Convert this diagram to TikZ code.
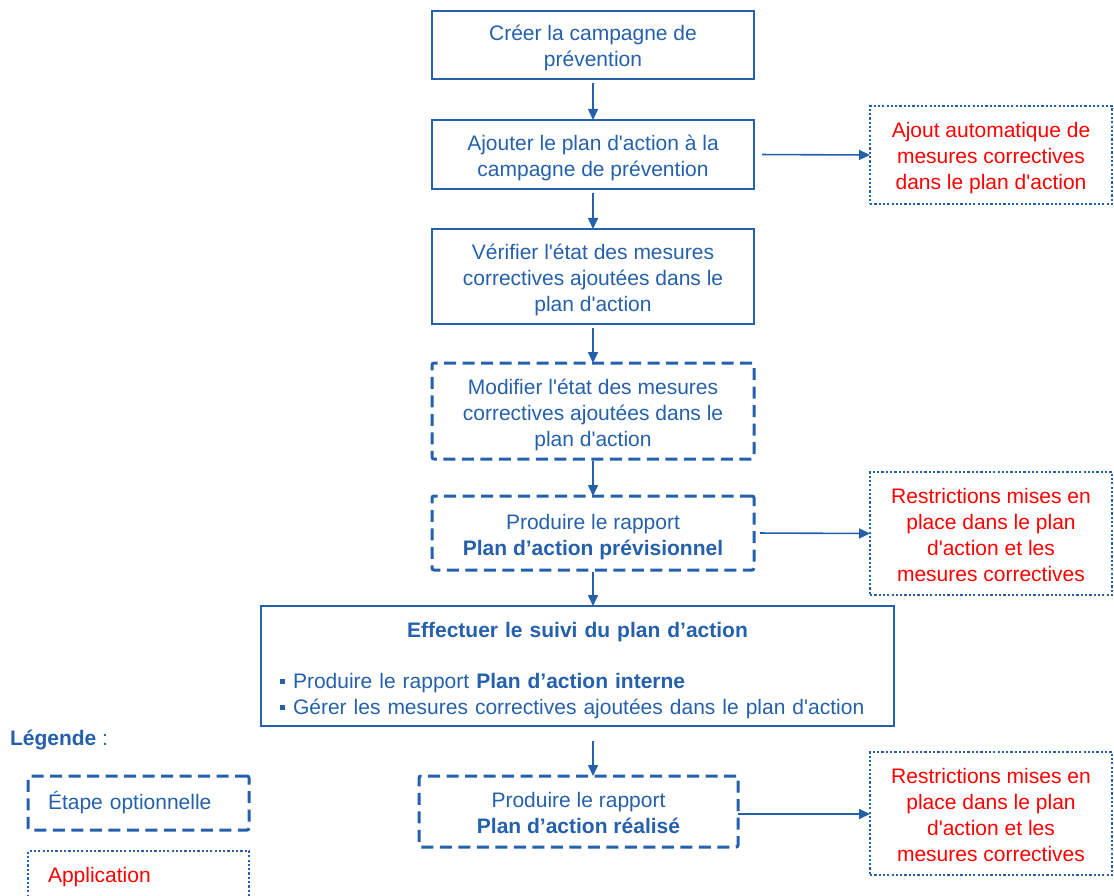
\documentclass[tikz,border=0pt]{standalone}
\usepackage{fontspec}
\setmainfont{Liberation Sans}[Ligatures=TeXOff]
\usetikzlibrary{arrows.meta}
\definecolor{bl}{RGB}{36,96,172}
\definecolor{rd}{RGB}{255,0,0}
\newcommand{\ts}{\rule{0pt}{23pt}}
\newcommand{\bs}{\rule[-5pt]{0pt}{5pt}}
\tikzset{
  base/.style={inner sep=0pt, outer sep=0pt, align=center, text=bl,
    font=\fontsize{21}{26}\selectfont},
  stepbox/.style={base, draw=bl, line width=1.6pt},
  optbox/.style={base, draw=bl, line width=3pt, dash pattern=on 12pt off 6.5pt, rounded corners=2pt},
  appbox/.style={base, draw=bl, text=rd, line width=2.5pt, dash pattern=on 2.2pt off 2.1pt},
  arr/.style={draw=bl, line width=1.6pt, -{Triangle[length=11pt,width=10pt]}},
}
\begin{document}
\begin{tikzpicture}[x=1pt,y=-1pt]
\path[use as bounding box] (0,0) rectangle (1114,896);
\clip (0,0) rectangle (1114,896);
% main steps
\node[stepbox, minimum width=322pt, minimum height=68pt] (creer) at (593,45) {\ts Créer la campagne de\\prévention\bs};
\node[stepbox, minimum width=322pt, minimum height=69pt] (ajout) at (593,154.5) {\ts Ajouter le plan d'action à la\\campagne de prévention\bs};
\node[stepbox, minimum width=322pt, minimum height=95pt] (verif) at (593,276.5) {\ts Vérifier l'état des mesures\\correctives ajoutées dans le\\plan d'action\bs};
\node[optbox, minimum width=322pt, minimum height=96pt] (modif) at (593,411) {\ts Modifier l'état des mesures\\correctives ajoutées dans le\\plan d'action\bs};
\node[optbox, minimum width=322pt, minimum height=74pt] (prev) at (593,533) {\ts Produire le rapport\\\textbf{Plan d’action prévisionnel}\bs};
\node[stepbox, minimum width=633pt, minimum height=120pt, text width=595pt, inner xsep=19pt, align=left] (eff) at (577.5,666)
  {\rule{0pt}{24pt}\makebox[595pt][c]{\textbf{Effectuer le suivi du plan d’action}}\\[25pt]
   \rule[4.5pt]{5pt}{5pt}\hspace{8pt}Produire le rapport \textbf{Plan d’action interne}\\
   \rule[4.5pt]{5pt}{5pt}\hspace{8pt}Gérer les mesures correctives ajoutées dans le plan d'action\bs};
\node[optbox, minimum width=319pt, minimum height=71pt] (real) at (578.5,811.5) {\ts Produire le rapport\\\textbf{Plan d’action réalisé}\bs};
% application boxes
\node[appbox, minimum width=242pt, minimum height=98pt] (app1) at (991,155) {\ts Ajout automatique de\\mesures correctives\\dans le plan d'action\bs};
\node[appbox, minimum width=242pt, minimum height=123pt] (app2) at (991,533.5) {\ts Restrictions mises en\\place dans le plan\\d'action et les\\mesures correctives\bs};
\node[appbox, minimum width=242pt, minimum height=123pt] (app3) at (991,813.5) {\ts Restrictions mises en\\place dans le plan\\d'action et les\\mesures correctives\bs};
% arrows
\draw[arr, shorten <=4pt] (creer.south) -- (ajout.north);
\draw[arr, shorten <=4pt] (ajout.south) -- (verif.north);
\draw[arr, shorten <=4pt] (verif.south) -- (modif.north);
\draw[arr, shorten <=2pt] (modif.south) -- (prev.north);
\draw[arr, shorten <=2pt] (prev.south) -- (eff.north -| prev.south);
\draw[arr, shorten <=15pt] (eff.south -| prev.south) -- (real.north -| prev.south);
\draw[arr, shorten <=8pt] (ajout.east) -- (app1.west);
\draw[arr, shorten <=6pt] (prev.east) -- (app2.west);
\draw[arr] (real.east |- 0,814) coordinate (rs) -- (rs -| app3.west);
% legend
\node[base, anchor=west] (leg) at (10,740) {\textbf{Légende} :};
\node[optbox, minimum width=221pt, minimum height=54pt, text width=181pt, inner xsep=20pt, align=left] (lopt) at (138.5,803) {Étape optionnelle};
\node[appbox, minimum width=221pt, minimum height=52pt, text width=181pt, inner xsep=20pt, align=left] (lapp) at (138.5,877) {Application};
\end{tikzpicture}
\end{document}
